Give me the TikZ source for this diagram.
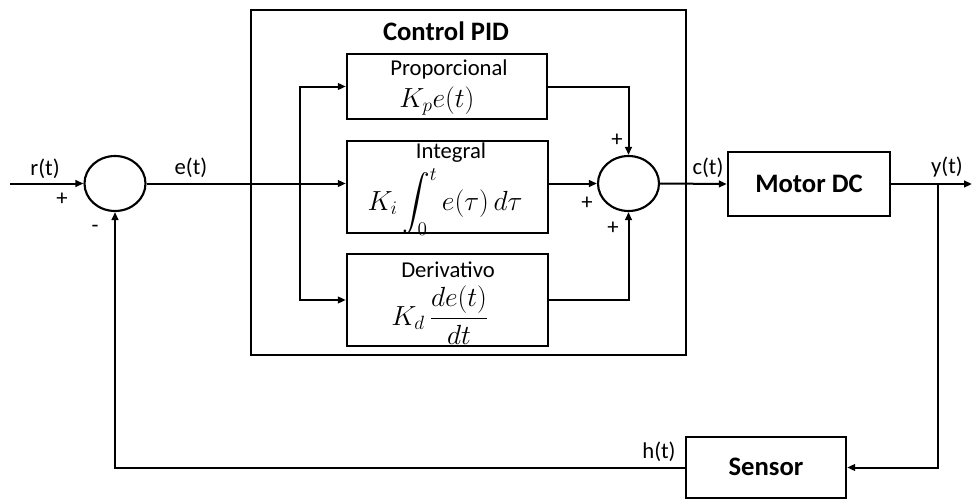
\documentclass[tikz,border=0pt]{standalone}
\usepackage{amsmath}
\usepackage{exscale}
\usepackage{fontspec}
\setmainfont{Carlito}
\usetikzlibrary{arrows.meta,shapes.geometric}
\begin{document}
\begin{tikzpicture}[x=0.75pt,y=-0.75pt,
  blk/.style={draw,line width=1.8pt,inner sep=0pt,fill=white},
  sumc/.style={draw,ellipse,line width=1.6pt,minimum width=45.75pt,minimum height=41.25pt,inner sep=0pt},
  wire/.style={line width=1.5pt},
  arr/.style={wire,-{Triangle[length=6pt,width=5pt]}},
  lab/.style={font=\fontsize{17}{20}\selectfont,inner sep=0pt},
  bold/.style={font=\fontsize{20}{24}\selectfont\bfseries,inner sep=0pt},
  mth/.style={font=\fontsize{20}{24}\selectfont,inner sep=0pt}]
\useasboundingbox (0,0) rectangle (972,500);
% PID frame
\node[draw,line width=1.8pt,minimum width=326.25pt,minimum height=258.75pt,inner sep=0pt] (pid) at (468.5,182.5) {};
\node[bold] (pidt) at (446,31) {Control PID};
% blocks
\node[blk,minimum width=150pt,minimum height=48.75pt] (P) at (447,86.5) {};
\node[lab] (Pt) at (449,69) {Proporcional};
\node[mth] (Pm) at (437,101) {$K_p e(t)$};
\node[blk,minimum width=150.75pt,minimum height=69pt] (I) at (447.5,187) {};
\node[lab] (It) at (451,153) {Integral};
\node[mth] (Im) at (445,202) {$K_i \displaystyle\int_0^t e(\tau)\,d\tau$};
\node[blk,minimum width=150.75pt,minimum height=69pt] (D) at (447.5,300) {};
\node[lab] (Dt) at (448,270) {Derivativo};
\node[mth] (Dm) at (440,315) {$K_d\, \dfrac{de(t)}{dt}$};
\node[blk,minimum width=121.5pt,minimum height=48pt] (M) at (809,184) {};
\node[bold] (Mt) at (809,184) {Motor DC};
\node[blk,minimum width=120pt,minimum height=45.75pt] (S) at (766,467.5) {};
\node[bold] (St) at (766,467) {Sensor};
% summing junctions
\node[sumc] (s1) at (115,183.5) {};
\node[sumc] (s2) at (628.5,183.5) {};
% coordinates
\coordinate (in) at (10,183.5);
\coordinate (sp) at (300,183.5);
\coordinate (ysp) at (938,184);
\coordinate (out) at (972,184);
% connectors
\draw[arr] (in) -- (s1.west);
\draw[arr] (s1.east) -- (s1.east -| I.west);
\draw[arr] (sp) |- (P.west);
\draw[arr] (sp) |- (D.west);
\draw[arr] (P.east) -| (s2.north);
\draw[arr] (s2.west -| I.east) -- (s2.west);
\draw[arr] (D.east) -| (s2.south);
\draw[arr] (s2.east) -- (M.west);
\draw[arr] (M.east) -- (out);
\draw[arr] (ysp) |- (S.east);
\draw[arr] (S.west) -| (s1.south);
% labels
\node[lab] (lr) at (45,169) {r(t)};
\node[lab] (lp1) at (62,199) {+};
\node[lab] (lm1) at (95,229) {-};
\node[lab] (le) at (191,168) {e(t)};
\node[lab] (lc) at (708,168) {c(t)};
\node[lab] (ly) at (947,167) {y(t)};
\node[lab] (lh) at (659,452) {h(t)};
\node[lab] (lp2) at (617,140) {+};
\node[lab] (lp3) at (587,203) {+};
\node[lab] (lp4) at (613,228) {+};
\end{tikzpicture}
\end{document}
